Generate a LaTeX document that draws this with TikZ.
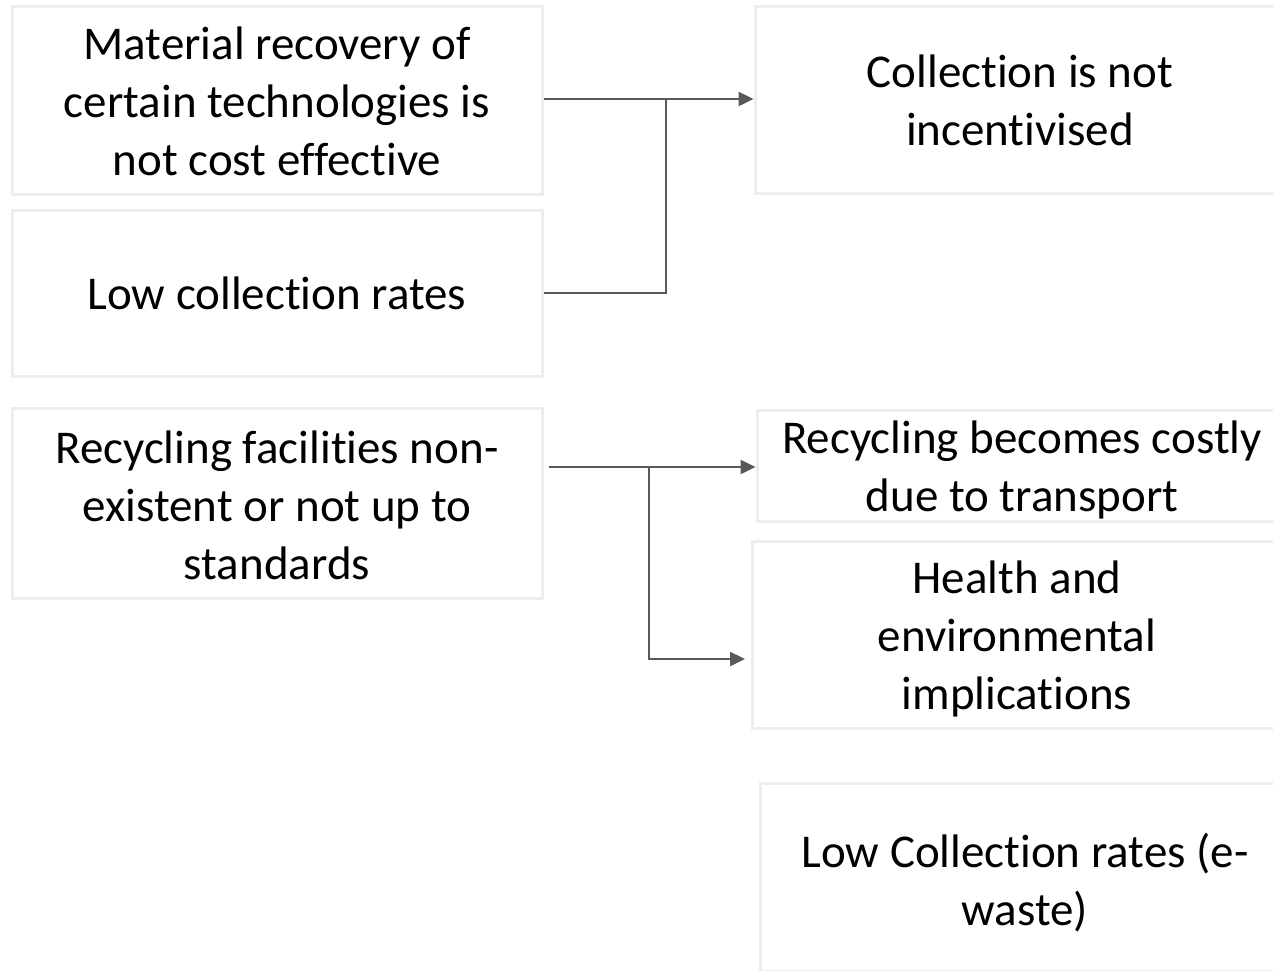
\documentclass[tikz,border=0pt]{standalone}
\usepackage{fontspec}
\setmainfont{Carlito}[Ligatures={NoCommon}]
\usetikzlibrary{arrows.meta}
\definecolor{boxline}{HTML}{EDEDED}
\definecolor{conn}{HTML}{595959}
\tikzset{
  box/.style={draw=boxline, line width=3pt, fill=white, minimum width=530pt, inner sep=0pt},
  txt/.style={align=center, inner sep=0pt, font=\fontsize{47}{58}\selectfont},
  conline/.style={draw=conn, line width=2.4pt},
  conarrow/.style={conline, -{Triangle[length=15pt,width=14pt]}}
}
\begin{document}
\begin{tikzpicture}[x=1pt,y=-1pt]
\useasboundingbox (0,0) rectangle (1273,970);
\node[box, minimum height=188pt] (A) at (277,100) {};
\node[box, minimum height=166pt] (B) at (277,293) {};
\node[box, minimum height=190pt] (C) at (277,503) {};
\node[box, minimum height=187pt] (D) at (1020,99.5) {};
\node[box, minimum height=111pt] (E) at (1022,465.5) {};
\node[box, minimum height=187pt] (F) at (1017,634.5) {};
\node[box, minimum height=188pt] (G) at (1025,877) {};
\node[txt] (At) at ([yshift=-1.5]A.center) {Material recovery of\\certain technologies is\\not cost effective};
\node[txt] (Bt) at (B.center) {Low collection rates};
\node[txt] (Ct) at ([yshift=-2]C.center) {Recycling facilities non-\\existent or not up to\\standards};
\node[txt] (Dt) at ([yshift=-0.5]D.center) {Collection is not\\incentivised};
\node[txt] (Et) at ([yshift=-4]E.center) {Recycling becomes costly\\due to transport};
\node[txt] (Ft) at ([yshift=-4]F.center) {Health and\\environmental\\implications};
\node[txt] (Gt) at ([yshift=-5.5]G.center) {Low Collection rates (e-\\waste)};
\coordinate (j1) at (666,99);
\coordinate (j2) at (649,467);
\coordinate (cstart) at (549,467);
\coordinate (fend) at (745,659);
\draw[conarrow] (A.east |- j1) -- (D.west |- j1);
\draw[conline] (B.east) -| (j1);
\draw[conarrow] (cstart) -- (E.west |- j2);
\draw[conarrow] (j2) |- (fend);
\end{tikzpicture}
\end{document}
